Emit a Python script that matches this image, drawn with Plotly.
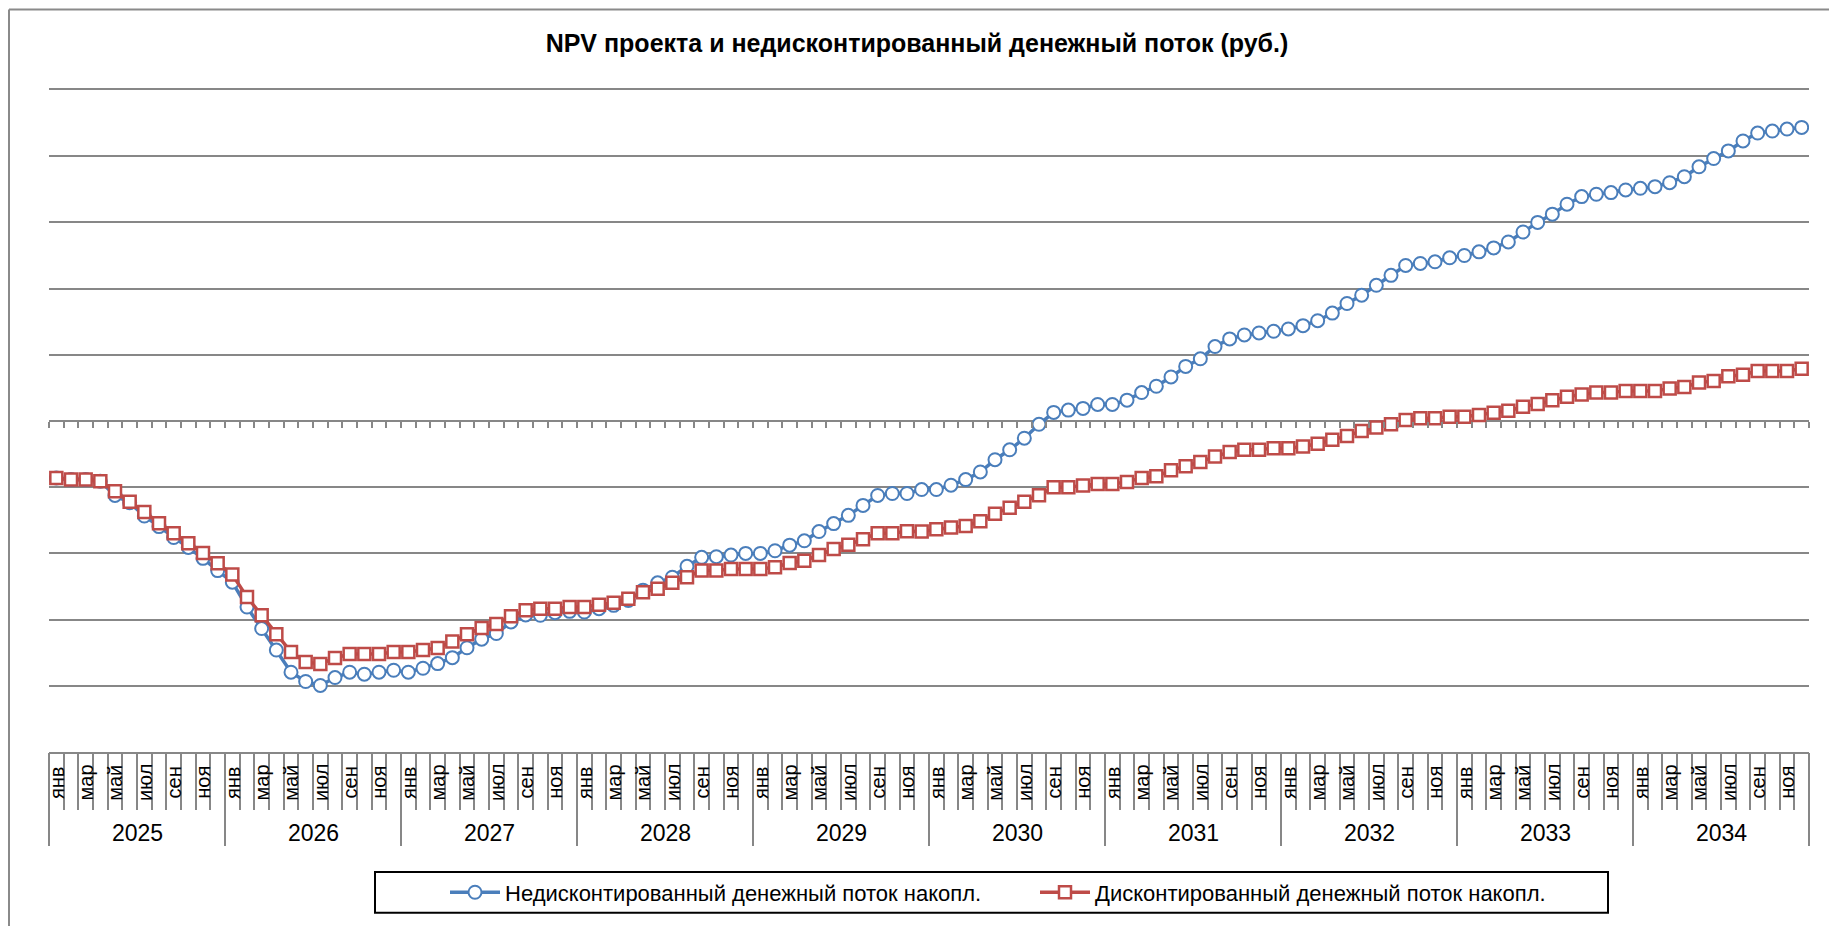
import plotly.graph_objects as go

# ---- data ----
years = [2025, 2026, 2027, 2028, 2029, 2030, 2031, 2032, 2033, 2034]
months = ["янв", "фев", "мар", "апр", "май", "июн", "июл", "авг", "сен", "окт", "ноя", "дек"]

undiscounted = [
    -8.6, -8.85, -8.85, -9.1, -11.25, -12.35, -14.35, -15.95, -17.6, -19.1,
    -20.75, -22.6, -24.35, -28.1, -31.35, -34.6, -37.95, -39.35, -39.95, -38.75,
    -37.95, -38.25, -37.95, -37.65, -37.95, -37.35, -36.65, -35.75, -34.25, -32.95,
    -32.1, -30.35, -29.3, -29.35, -28.95, -28.75, -28.85, -28.35, -27.85, -27.1,
    -25.55, -24.45, -23.6, -21.95, -20.6, -20.5, -20.25, -20.0, -20.0, -19.6,
    -18.75, -18.1, -16.7, -15.5, -14.25, -12.75, -11.25, -10.95, -10.95, -10.35,
    -10.35, -9.7, -8.85, -7.7, -5.85, -4.35, -2.6, -0.5, 1.3, 1.65,
    1.9, 2.5, 2.5, 3.15, 4.3, 5.25, 6.65, 8.25, 9.4, 11.25,
    12.4, 13.0, 13.3, 13.55, 13.9, 14.4, 15.15, 16.3, 17.75, 19.0,
    20.5, 22.0, 23.5, 23.8, 24.05, 24.65, 25.0, 25.55, 26.15, 27.05,
    28.55, 30.0, 31.25, 32.75, 33.9, 34.25, 34.5, 34.9, 35.15, 35.4,
    36.0, 36.9, 38.4, 39.65, 40.8, 42.3, 43.5, 43.8, 44.1, 44.35,
]

discounted = [
    -8.6, -8.85, -8.85, -9.1, -10.6, -12.2, -13.75, -15.45, -16.95, -18.45,
    -19.95, -21.5, -23.2, -26.6, -29.35, -32.2, -34.9, -36.4, -36.7, -35.8,
    -35.2, -35.2, -35.2, -34.9, -34.9, -34.6, -34.3, -33.3, -32.2, -31.25,
    -30.65, -29.5, -28.6, -28.35, -28.35, -28.1, -28.1, -27.75, -27.45, -26.85,
    -25.85, -25.35, -24.45, -23.6, -22.6, -22.6, -22.35, -22.35, -22.35, -22.1,
    -21.45, -21.1, -20.25, -19.35, -18.7, -17.85, -16.95, -16.95, -16.65, -16.7,
    -16.35, -16.1, -15.85, -15.15, -14.0, -13.1, -12.2, -11.2, -10.0, -10.0,
    -9.75, -9.5, -9.5, -9.2, -8.6, -8.35, -7.45, -6.85, -6.2, -5.35,
    -4.7, -4.35, -4.35, -4.1, -4.1, -3.85, -3.45, -2.85, -2.25, -1.5,
    -1.0, -0.5, 0.15, 0.4, 0.4, 0.65, 0.65, 0.9, 1.25, 1.55,
    2.15, 2.55, 3.15, 3.65, 4.0, 4.3, 4.3, 4.55, 4.55, 4.55,
    4.9, 5.15, 5.8, 6.05, 6.75, 7.0, 7.55, 7.55, 7.55, 7.9,
]

names = ["Недисконтированный денежный поток накопл.", "Дисконтированный денежный поток накопл."]
title = "NPV проекта и недисконтированный денежный поток (руб.)"

# ---- derived ----
n = len(years) * len(months)
x_idx = list(range(n))
boundaries = [i - 0.5 for i in range(n + 1)]
year_bounds = [i * 12 - 0.5 for i in range(len(years) + 1)]

# page has an 8px body margin; figure sized so the page is exactly 1837x926
OFF = 8
W, H = 1837 - OFF, 926 - OFF
PLOT_L, PLOT_R, PLOT_T, PLOT_B = 49, 1809, 90, 757   # page pixel coords of the plot area
L, T = PLOT_L - OFF, PLOT_T - OFF
R = W - (PLOT_R - OFF)
B = H - (PLOT_B - OFF)

def py(p):   # page pixel y -> paper y
    return (PLOT_B - p) / (PLOT_B - PLOT_T)
def px_(p):  # page pixel x -> paper x
    return (p - PLOT_L) / (PLOT_R - PLOT_L)

FONT = "Arial, Liberation Sans, sans-serif"
GRID = "#878787"
BLUE = "#4A7EBB"
RED = "#BE4B48"

fig = go.Figure()
fig.add_trace(go.Scatter(
    x=x_idx, y=undiscounted, name=names[0], mode="lines+markers",
    line=dict(color=BLUE, width=3.5),
    marker=dict(symbol="circle", size=13, color="white", line=dict(color=BLUE, width=2)),
))
fig.add_trace(go.Scatter(
    x=x_idx, y=discounted, name=names[1], mode="lines+markers",
    line=dict(color=RED, width=3.5),
    marker=dict(symbol="square", size=12, color="white", line=dict(color=RED, width=2.5)),
))
# helper invisible traces so the overlay axes get drawn
fig.add_trace(go.Scatter(x=[0], y=[None], xaxis="x2", showlegend=False, hoverinfo="skip"))
fig.add_trace(go.Scatter(x=[0], y=[None], xaxis="x3", showlegend=False, hoverinfo="skip"))

annotations = []
for yi, yr in enumerate(years):
    for mi, m in enumerate(months):
        if mi % 2 == 0:
            annotations.append(dict(
                x=yi * 12 + mi, y=py(788), xref="x", yref="paper",
                text=m, textangle=-90, showarrow=False,
                xanchor="center", yanchor="middle",
                font=dict(family=FONT, size=20, color="black"),
            ))
    annotations.append(dict(
        x=yi * 12 + 5.5, y=py(839), xref="x", yref="paper",
        text=str(yr), showarrow=False, xanchor="center", yanchor="middle",
        font=dict(family=FONT, size=23, color="black"),
    ))

shapes = [
    # legend box
    dict(type="rect", xref="paper", yref="paper",
         x0=px_(375), x1=px_(1608), y0=py(919), y1=py(878),
         line=dict(color="black", width=2), fillcolor="rgba(0,0,0,0)", layer="below"),
    # outer chart frame (left and top edges)
    dict(type="line", xref="paper", yref="paper",
         x0=px_(9), x1=px_(9), y0=py(940), y1=py(9), line=dict(color="#8a8a8a", width=2)),
    dict(type="line", xref="paper", yref="paper",
         x0=px_(9), x1=px_(1850), y0=py(9), y1=py(9), line=dict(color="#8a8a8a", width=2)),
]

axis_common = dict(range=[-0.5, n - 0.5], showgrid=False, zeroline=False,
                   showticklabels=False, fixedrange=True)

fig.update_layout(
    width=W, height=H,
    margin=dict(l=L, r=R, t=T, b=B),
    paper_bgcolor="white", plot_bgcolor="white",
    title=dict(text=f"<b>{title}</b>", x=(917 - OFF) / W, xref="container", xanchor="center",
               y=1 - (43 - OFF) / H, yref="container", yanchor="middle",
               font=dict(family=FONT, size=25, color="black")),
    xaxis=dict(**axis_common, showline=True, linecolor=GRID, linewidth=2, mirror=True,
               ticks="outside", tickvals=boundaries, ticklen=56, tickwidth=1.5, tickcolor=GRID),
    xaxis2=dict(**axis_common, overlaying="x", anchor="free", position=0.5, side="bottom",
                showline=False, ticks="outside", tickvals=boundaries, ticklen=6,
                tickwidth=1.5, tickcolor=GRID),
    xaxis3=dict(**axis_common, overlaying="x", anchor="y", side="bottom", showline=False,
                ticks="outside", tickvals=year_bounds, ticklen=93, tickwidth=1.5, tickcolor=GRID),
    yaxis=dict(range=[-50, 50], dtick=10, tick0=0, showgrid=True, gridcolor=GRID, gridwidth=2,
               zeroline=True, zerolinecolor=GRID, zerolinewidth=2,
               showticklabels=False, ticks="", showline=False, fixedrange=True),
    legend=dict(orientation="h", x=px_(445), xanchor="left", y=py(898.5), yanchor="middle",
                font=dict(family=FONT, size=22, color="black"),
                bgcolor="rgba(0,0,0,0)", borderwidth=0,
                entrywidth=525, entrywidthmode="pixels", itemwidth=50),
    annotations=annotations,
    shapes=shapes,
    showlegend=True,
)

fig.write_html("out.html")
